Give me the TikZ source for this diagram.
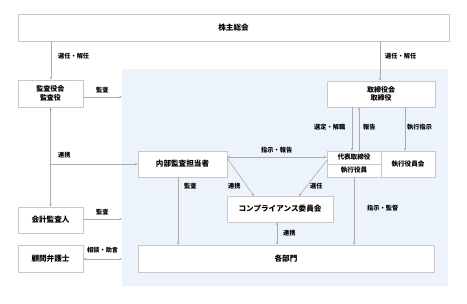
\documentclass[tikz,border=0pt]{standalone}
\usepackage{fontspec}
\setmainfont{Noto Sans CJK JP}
\usetikzlibrary{arrows.meta}
\definecolor{bgblue}{HTML}{EDF3FA}
\definecolor{boxline}{HTML}{C8C8C8}
\definecolor{conn}{HTML}{ABABAB}
\begin{document}
\begin{tikzpicture}[x=1pt,y=-1pt,
  box/.style={draw=boxline,line width=0.6pt,fill=white,inner sep=0pt,align=center,font=\fontsize{7.6}{9.2}\selectfont\bfseries},
  cell/.style={box,font=\fontsize{6.6}{8}\selectfont\bfseries},
  lbl/.style={font=\fontsize{6.2}{7.5}\selectfont\bfseries,inner sep=0pt,anchor=west},
  arr/.style={draw=conn,line width=0.6pt,-{Stealth[length=2.8pt,width=2.4pt]}},
  darr/.style={draw=conn,line width=0.6pt,{Stealth[length=2.8pt,width=2.4pt]}-{Stealth[length=2.8pt,width=2.4pt]}}]
\useasboundingbox (0,0) rectangle (467,304);
\fill[white] (0,0) rectangle (467,304);
\fill[bgblue] (122,69) rectangle (448,286);
% boxes
\node[box,minimum width=431pt,minimum height=27pt] (soukai) at (233.5,27.5) {株主総会};
\node[box,minimum width=65pt,minimum height=27pt,font=\fontsize{7}{8.6}\selectfont\bfseries] (kansa) at (50.5,93.5) {監査役会\\監査役};
\node[box,minimum width=65pt,minimum height=26pt] (kaikei) at (50.5,220) {会計監査人};
\node[box,minimum width=65pt,minimum height=27pt] (bengo) at (50.5,258.5) {顧問弁護士};
\node[box,minimum width=108pt,minimum height=26pt,font=\fontsize{7}{8.6}\selectfont\bfseries] (torishimari) at (381,94) {取締役会\\取締役};
\node[box,minimum width=89pt,minimum height=26pt] (naibu) at (182.5,164) {内部監査担当者};
\node[cell,minimum width=54pt,minimum height=13pt] (daihyo) at (354,157.5) {代表取締役};
\node[cell,minimum width=54pt,minimum height=13pt] (shikko) at (354,170.5) {執行役員};
\node[cell,minimum width=54pt,minimum height=26pt] (shikkokai) at (408,164) {執行役員会};
\node[box,minimum width=106pt,minimum height=26pt] (comp) at (280,209) {コンプライアンス委員会};
\node[box,minimum width=296pt,minimum height=27pt] (kakubu) at (286,258.5) {各部門};
% connectors
\coordinate (bgL1) at (122,97);
\coordinate (bgL2) at (122,219);
\coordinate (bgL3) at (122,259);
\draw[arr] (soukai.south -| 51,0) -- (kansa.north -| 51,0);
\draw[arr] (soukai.south -| 380,0) -- (torishimari.north -| 380,0);
\node[lbl] (l1) at (58,56) {選任・解任};
\node[lbl] (l2) at (385,56) {選任・解任};
\draw[arr] (kansa.east |- bgL1) -- (bgL1);
\node[lbl] (l3) at (96,90) {監査};
\draw[darr] (kansa.south) -- (kaikei.north);
\coordinate (j1) at (51,164);
\draw[arr] (j1) -- (naibu.west);
\node[lbl] (l4) at (58,155) {連携};
\draw[arr] (kaikei.east |- bgL2) -- (bgL2);
\node[lbl] (l5) at (96,212) {監査};
\draw[darr] (bengo.east |- bgL3) -- (bgL3);
\node[lbl] (l6) at (87,250) {相談・助言};
% board to rep
\draw[arr] (torishimari.south -| 352,0) -- (daihyo.north -| 352,0);
\draw[arr] (daihyo.north -| 359,0) -- (torishimari.south -| 359,0);
\draw[arr] (torishimari.south -| 405,0) -- (shikkokai.north -| 405,0);
\node[lbl] (l7) at (314,127) {選定・解職};
\node[lbl] (l8) at (363,127) {報告};
\node[lbl] (l9) at (407,127) {執行指示};
% internal audit <-> rep
\draw[darr] (naibu.east |- 0,157) -- (daihyo.west |- 0,157);
\node[lbl] (l10) at (261,150) {指示・報告};
% diagonals
\draw[darr] (227,158) -- (254,196);
\node[lbl] (l11) at (228,186) {連携};
\draw[arr] (327,160) -- (299,196);
\node[lbl] (l12) at (310,186) {選任};
% verticals to kakubu
\draw[arr] (naibu.south -| 178,0) -- (kakubu.north -| 178,0);
\node[lbl] (l13) at (184,186) {監査};
\draw[darr] (comp.south -| 277,0) -- (kakubu.north -| 277,0);
\node[lbl] (l14) at (283,233) {連携};
\draw[arr] (shikko.south -| 354,0) -- (kakubu.north -| 354,0);
\node[lbl] (l15) at (367,208) {指示・監督};
\end{tikzpicture}
\end{document}
